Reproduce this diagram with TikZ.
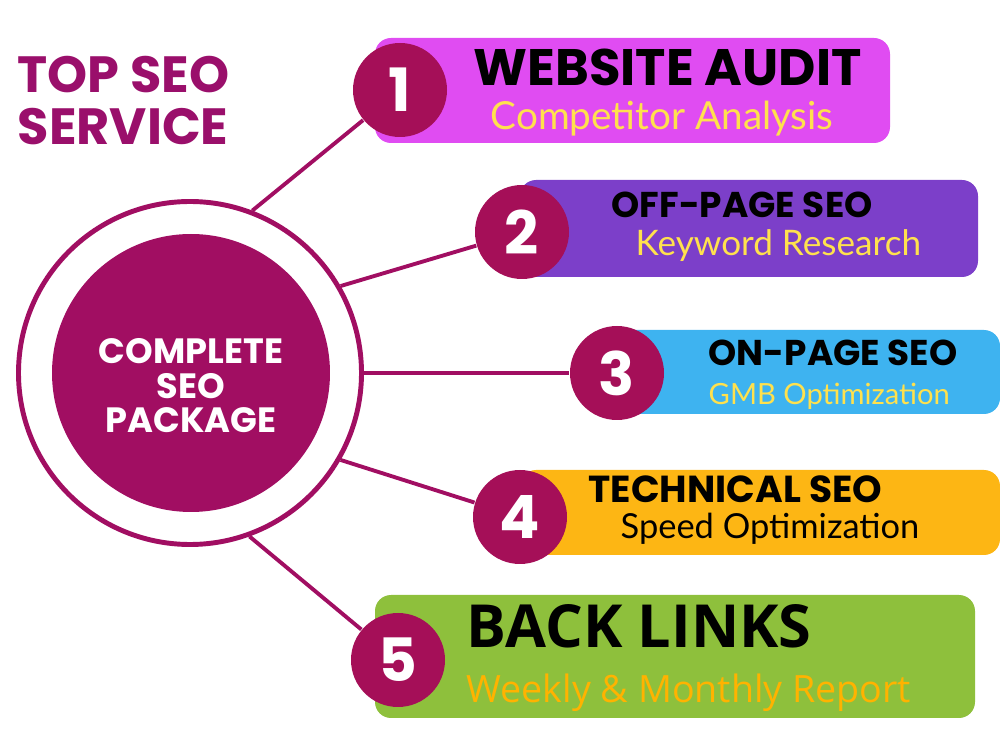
\documentclass[tikz,border=0pt]{standalone}
\usepackage{fontspec}
\usepackage{tikz}
\usetikzlibrary{positioning}
\newfontfamily\headfont{Poppins}
\newfontfamily\subfont{Lato}
\newfontfamily\linkfont{Open Sans}
\definecolor{plum}{HTML}{A10E62}
\definecolor{numred}{HTML}{A50F58}
\definecolor{titlecol}{HTML}{9A0F6B}
\definecolor{cardA}{HTML}{E04CF2}
\definecolor{cardB}{HTML}{7C3FC9}
\definecolor{cardC}{HTML}{3EB3F0}
\definecolor{cardD}{HTML}{FDB614}
\definecolor{cardE}{HTML}{8EC03C}
\definecolor{gold}{HTML}{FFE14D}
\definecolor{amber}{HTML}{FFB300}

\begin{document}
\begin{tikzpicture}[x=0.1mm, y=-0.1mm,
	card/.style={rounded corners=1.6mm, inner sep=0pt},
	numdot/.style={circle, fill=numred, minimum size=9.4mm, inner sep=0pt, text=white, font=\headfont\bfseries\fontsize{17}{17}\selectfont},
	link/.style={plum, line width=1.1pt},
	head/.style={anchor=base west, inner sep=0pt, font=\headfont\bfseries\fontsize{10.2}{10.2}\selectfont},
	sub/.style={anchor=base west, inner sep=0pt, font=\subfont\fontsize{11}{11}\selectfont, text=gold}]
	\useasboundingbox (0,0) rectangle (1000,750);
	\node[anchor=base west, inner sep=0pt, align=left, text=titlecol, font=\headfont\bfseries\fontsize{14.5}{14.8}\selectfont] (title) at (17,145) {TOP SEO\\SERVICE};
	\node[circle, draw=plum, line width=1.4pt, minimum size=34.3mm, inner sep=0pt] (ring) at (190,373) {};
	\node[circle, fill=plum, minimum size=27.8mm, inner sep=0pt] (hub) at (191,373) {};
	\node[align=center, inner sep=0pt, text=white, font=\headfont\bfseries\fontsize{10}{9.8}\selectfont] (hubtext) at (191,386) {COMPLETE\\SEO\\PACKAGE};
	\node[card, fill=cardA, minimum width=51.5mm, minimum height=10.5mm] (b1) at (632.5,90.5) {};
	\node[card, fill=cardB, minimum width=45.8mm, minimum height=9.7mm] (b2) at (749,228.5) {};
	\node[card, fill=cardC, minimum width=38mm, minimum height=8.4mm] (b3) at (810,372) {};
	\node[card, fill=cardD, minimum width=48mm, minimum height=8.5mm] (b4) at (760,512.5) {};
	\node[card, fill=cardE, minimum width=60mm, minimum height=12.3mm] (b5) at (675,656.5) {};
	\node[numdot] (c1) at (400,90) {1};
	\node[numdot] (c2) at (522,232) {2};
	\node[numdot] (c3) at (617,373) {3};
	\node[numdot] (c4) at (520,517) {4};
	\node[numdot] (c5) at (398,660) {5};
	\draw[link] (ring.69) -- (c1);
	\draw[link] (ring.30) -- (c2);
	\draw[link] (ring.0) -- (c3);
	\draw[link] (ring.-30) -- (c4);
	\draw[link] (ring.-70) -- (c5);
	\node[head, font=\headfont\bfseries\fontsize{14.6}{14.6}\selectfont] (t1) at (473,86) {WEBSITE AUDIT};
	\node[sub, font=\subfont\fontsize{11}{11}\selectfont] (s1) at (490,130) {Competitor Analysis};
	\node[head] (t2) at (611,218) {OFF-PAGE SEO};
	\node[sub, font=\subfont\fontsize{10}{10}\selectfont] (s2) at (635,256) {Keyword Research};
	\node[head] (t3) at (708,366) {ON-PAGE SEO};
	\node[sub, font=\subfont\fontsize{8.3}{8.3}\selectfont] (s3) at (708,405) {GMB Optimization};
	\node[head, font=\headfont\bfseries\fontsize{10.7}{10.7}\selectfont] (t4) at (588,502) {TECHNICAL SEO};
	\node[sub, text=black, font=\subfont\fontsize{9.8}{9.8}\selectfont] (s4) at (620,538) {Speed Optimization};
	\node[head, font=\linkfont\bfseries\fontsize{16.9}{16.9}\selectfont] (t5) at (466,648) {BACK LINKS};
	\node[sub, text=amber, font=\linkfont\fontsize{10.7}{10.7}\selectfont] (s5) at (466,702) {Weekly \& Monthly Report};
\end{tikzpicture}
\end{document}
